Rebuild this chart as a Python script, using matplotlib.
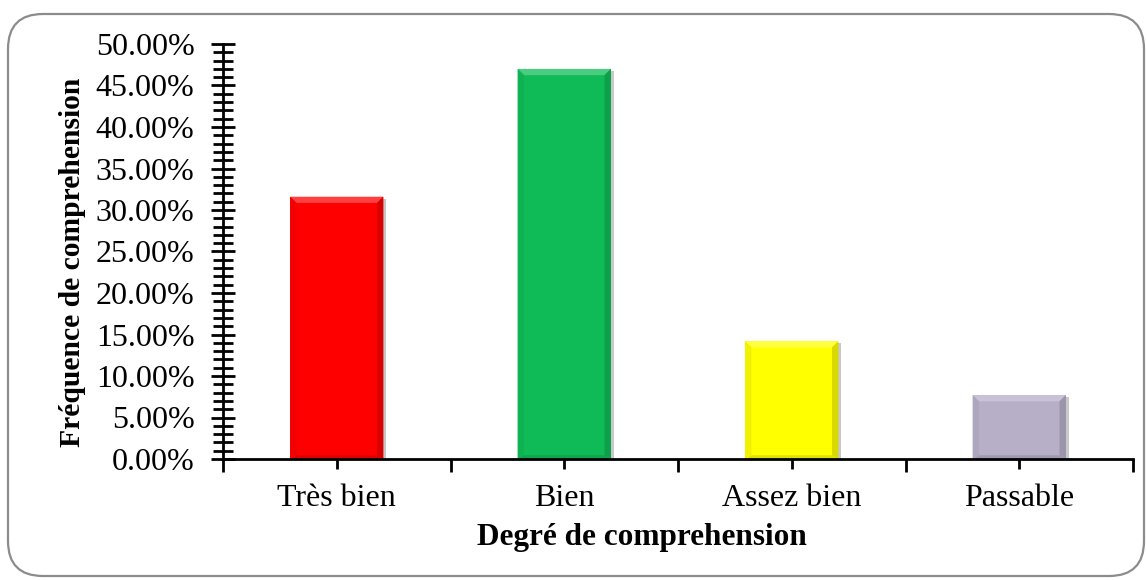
import numpy as np
import matplotlib
matplotlib.use("Agg")
import matplotlib.pyplot as plt
from matplotlib.patches import FancyBboxPatch, Polygon
from matplotlib.transforms import IdentityTransform
from matplotlib.ticker import MultipleLocator, FixedLocator, NullFormatter, FuncFormatter
import matplotlib.colors as mcolors

categories = ["Très bien", "Bien", "Assez bien", "Passable"]
valeurs = [31.6, 47.0, 14.2, 7.7]
couleurs = ["#ff0000", "#0fbb57", "#ffff00", "#b7aec8"]

plt.rcParams['font.family'] = ['Liberation Serif', 'DejaVu Serif']

fig = plt.figure(figsize=(11.47, 5.8), dpi=100)
ax = fig.add_axes([223 / 1147, 1 - 459 / 580, (1133 - 223) / 1147, (459 - 44) / 580])

# cadre arrondi autour du graphique (en pixels)
cadre = FancyBboxPatch((8, 4), 1136, 562, boxstyle="round,pad=0,rounding_size=35",
                       transform=IdentityTransform(), facecolor="none",
                       edgecolor="#8c8c8c", linewidth=1.6)
fig.patches.append(cadre)

x = np.arange(len(categories))
largeur = 0.41
barres = ax.bar(x, valeurs, width=largeur, color=couleurs, zorder=3)


def eclaircir(c, f):
    r, g, b = mcolors.to_rgb(c)
    return (r + (1 - r) * f, g + (1 - g) * f, b + (1 - b) * f)


def assombrir(c, f):
    r, g, b = mcolors.to_rgb(c)
    return (r * (1 - f), g * (1 - f), b * (1 - f))


# effet biseau + ombre
bx = 0.028
by = 0.75
for b, c in zip(barres, couleurs):
    x0 = b.get_x()
    x1 = x0 + b.get_width()
    h = b.get_height()
    ax.add_patch(Polygon([(x0 + 0.012, 0), (x1 + 0.012, 0), (x1 + 0.012, h - 0.25), (x0 + 0.012, h - 0.25)],
                         closed=True, facecolor="#c8c8c8", edgecolor="none", zorder=2))
    ax.add_patch(Polygon([(x0, h), (x1, h), (x1 - bx, h - by), (x0 + bx, h - by)],
                         closed=True, facecolor=eclaircir(c, 0.25), edgecolor="none", zorder=4))
    ax.add_patch(Polygon([(x0, 0), (x1, 0), (x1 - bx, by * 0.6), (x0 + bx, by * 0.6)],
                         closed=True, facecolor=assombrir(c, 0.12), edgecolor="none", zorder=4))
    ax.add_patch(Polygon([(x0, 0), (x0 + bx, by * 0.6), (x0 + bx, h - by), (x0, h)],
                         closed=True, facecolor=assombrir(c, 0.05), edgecolor="none", zorder=4))
    ax.add_patch(Polygon([(x1, 0), (x1 - bx, by * 0.6), (x1 - bx, h - by), (x1, h)],
                         closed=True, facecolor=assombrir(c, 0.15), edgecolor="none", zorder=4))

ax.set_xlim(-0.5, len(categories) - 0.5)
ax.set_ylim(0, 50)

for s in ["top", "right"]:
    ax.spines[s].set_visible(False)
for s in ["left", "bottom"]:
    ax.spines[s].set_linewidth(2)
    ax.spines[s].set_color("black")
    ax.spines[s].set_zorder(5)

ax.yaxis.set_major_locator(MultipleLocator(5))
ax.yaxis.set_minor_locator(MultipleLocator(1))
ax.yaxis.set_major_formatter(FuncFormatter(lambda v, p: f"{v:.2f}%"))
ax.tick_params(axis="y", which="major", direction="inout", length=17, width=2, labelsize=23, pad=12)
ax.tick_params(axis="y", which="minor", direction="inout", length=14, width=2)

ax.xaxis.set_major_locator(FixedLocator(np.arange(len(categories) + 1) - 0.5))
ax.xaxis.set_major_formatter(NullFormatter())
ax.xaxis.set_minor_locator(FixedLocator(x))
ax.set_xticks(x, categories, minor=True)
ax.tick_params(axis="x", which="major", direction="out", length=9, width=2)
ax.tick_params(axis="x", which="minor", direction="inout", length=14, width=2, labelsize=23, pad=11)

ax.set_xlabel("Degré de comprehension", fontsize=22.5, fontweight="bold")
ax.set_ylabel("Fréquence de comprehension", fontsize=21.3, fontweight="bold", labelpad=7)
ax.xaxis.set_label_coords(0.46, -0.155)
ax.yaxis.label.set_y(0.475)

fig.savefig("out.png", dpi=100)
